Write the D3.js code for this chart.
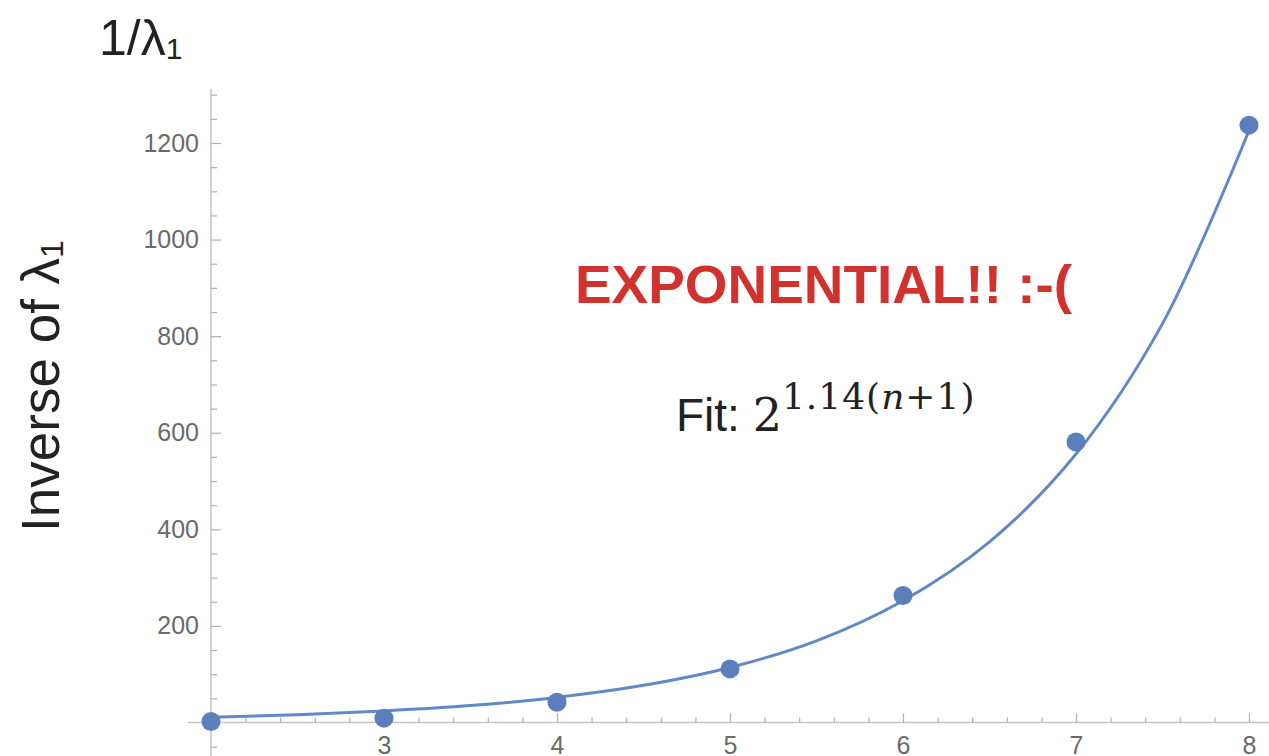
<!DOCTYPE html>
<html>
<head>
<meta charset="utf-8">
<script src="https://cdn.jsdelivr.net/npm/d3@7"></script>
<style>
  body{margin:0;background:#fff;}
  svg{display:block;}
</style>
</head>
<body>
<svg id="chart"></svg>
<script>
// measured points (n, 1/lambda1)
var nValues=[2,3,4,5,6,7,8];
var invLambda=[2,9,42,111,263,581,1237];

// fitted curve
var fitN=[2,2.5,3,3.5,4,4.5,5,5.5,6,6.5,7,7.5,8];
var fitValues=[11,16,24,35,52,77,114,169,252,374,556,826,1226];

var xTickLabels=[3,4,5,6,7,8];
var yTickLabels=[200,400,600,800,1000,1200];

var svgWidth=1269,svgHeight=756;
var svg=d3.select('#chart')
  .attr('width',svgWidth)
  .attr('height',svgHeight);

var x=d3.scaleLinear().domain([2,8]).range([211,1249]);
var y=d3.scaleLinear().domain([0,1200]).range([722.5,143]);

var axisColor='#c4c4c4';
var tickColor='#b0b0b0';
var labelColor='#6a6a6a';
var blue='#5b7fbd';
var sans='"Liberation Sans", Arial, sans-serif';
var serif='"DejaVu Serif", serif';

// axis lines
svg.append('line')
  .attr('x1',188).attr('x2',svgWidth)
  .attr('y1',y(0)).attr('y2',y(0))
  .attr('stroke',axisColor).attr('stroke-width',1.5);
svg.append('line')
  .attr('x1',x(2)).attr('x2',x(2))
  .attr('y1',y(1312)).attr('y2',svgHeight)
  .attr('stroke',axisColor).attr('stroke-width',1.5);

// y ticks
var yMinor=d3.range(-50,1301,50).filter(function(d){return d%200!==0;});
var yMinorAxis=svg.append('g')
  .attr('transform','translate('+x(2)+',0)')
  .call(d3.axisLeft(y).tickValues(yMinor).tickSize(-6).tickFormat(''));
var yAxis=svg.append('g')
  .attr('transform','translate('+x(2)+',0)')
  .call(d3.axisLeft(y).tickValues(yTickLabels).tickSize(-10).tickPadding(12).tickFormat(d3.format('d')));

// x ticks
var xMinor=d3.range(10,41).map(function(d){return d/5;}).filter(function(d){return Math.abs(d-Math.round(d))>1e-6;});
var xMinorAxis=svg.append('g')
  .attr('transform','translate(0,'+y(0)+')')
  .call(d3.axisBottom(x).tickValues(xMinor).tickSize(-5).tickFormat(''));
var xAxis=svg.append('g')
  .attr('transform','translate(0,'+y(0)+')')
  .call(d3.axisBottom(x).tickValues(xTickLabels).tickSize(-9).tickPadding(14).tickFormat(d3.format('d')));

[yMinorAxis,yAxis,xMinorAxis,xAxis].forEach(function(g){
  g.select('.domain').remove();
  g.selectAll('line').attr('stroke',tickColor).attr('stroke-width',1.2);
  g.selectAll('text')
    .attr('fill',labelColor)
    .style('font-family',sans)
    .style('font-size','25px');
});

// fit curve
var line=d3.line()
  .x(function(d,i){return x(fitN[i]);})
  .y(function(d){return y(d);})
  .curve(d3.curveCatmullRom);
svg.append('path')
  .datum(fitValues)
  .attr('fill','none')
  .attr('stroke','#6189c6')
  .attr('stroke-width',3)
  .attr('d',line);

// points
svg.selectAll('.pt')
  .data(invLambda)
  .enter().append('circle')
  .attr('class','pt')
  .attr('cx',function(d,i){return x(nValues[i]);})
  .attr('cy',function(d){return y(d);})
  .attr('r',9.5)
  .attr('fill',blue);

// titles
var topLabel=svg.append('text')
  .attr('x',99).attr('y',55)
  .style('font-family',sans).style('font-size','50px')
  .attr('fill','#222');
topLabel.append('tspan').text('1/λ');
topLabel.append('tspan').attr('dy',4).style('font-size','30px').text('1');

var yLabel=svg.append('text')
  .attr('transform','translate(59,386) rotate(-90)')
  .attr('text-anchor','middle')
  .style('font-family',sans).style('font-size','53px')
  .attr('fill','#222');
yLabel.append('tspan').text('Inverse of λ');
yLabel.append('tspan').attr('dy',4).style('font-size','32px').text('1');

svg.append('text')
  .attr('x',575).attr('y',303)
  .style('font-family',sans).style('font-size','53px').style('font-weight','bold')
  .attr('fill','#d2322d')
  .attr('textLength',497).attr('lengthAdjust','spacingAndGlyphs')
  .text('EXPONENTIAL!! :-(');

var fit=svg.append('text')
  .attr('x',676).attr('y',431)
  .attr('fill','#222');
fit.append('tspan').style('font-family',sans).style('font-size','46px').text('Fit: ');
fit.append('tspan').style('font-family',serif).style('font-size','46px').text('2');
var sup=fit.append('tspan').attr('dy',-22).style('font-family',serif).style('font-size','36px').style('letter-spacing','1px');
sup.append('tspan').text('1.14(');
sup.append('tspan').style('font-style','italic').text('n');
sup.append('tspan').text('+1)');
</script>
</body>
</html>
